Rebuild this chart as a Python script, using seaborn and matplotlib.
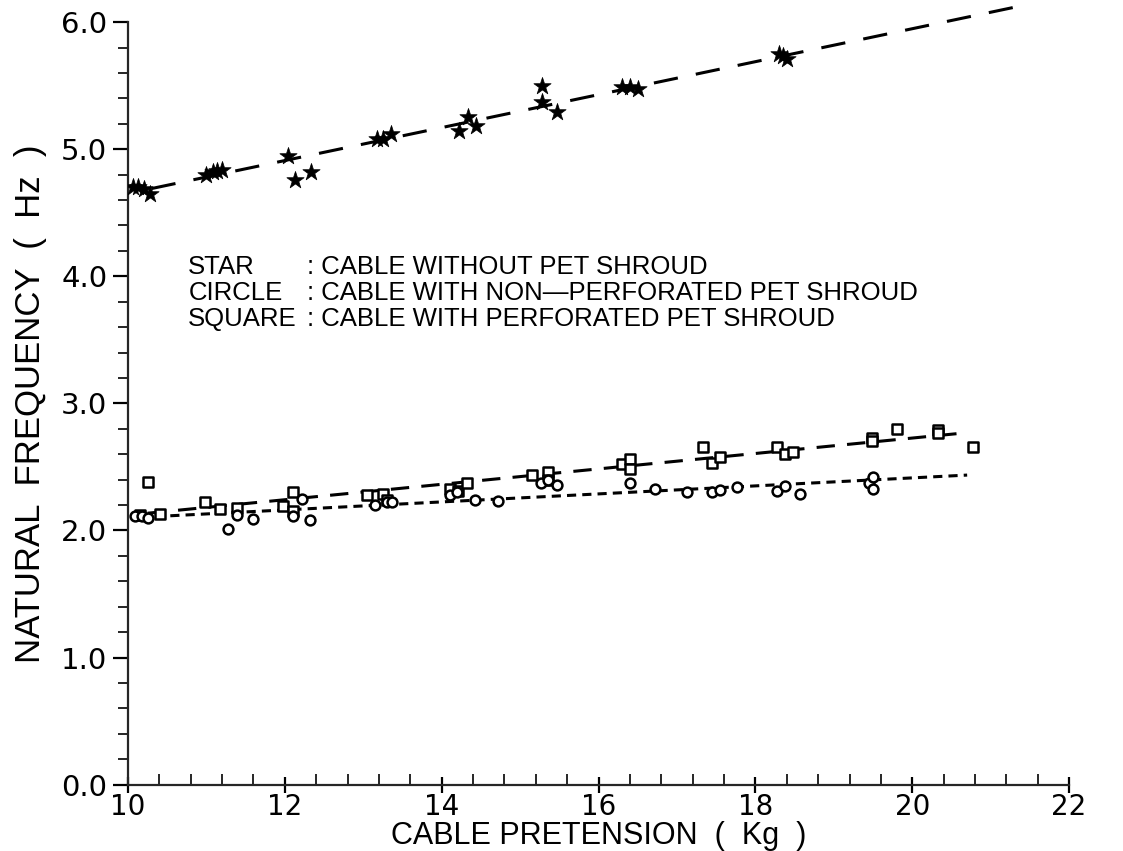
import numpy as np
import pandas as pd
import matplotlib
matplotlib.use("Agg")
import matplotlib.pyplot as plt
import seaborn as sns
from matplotlib.ticker import MultipleLocator, FormatStrFormatter

# ---- data ----
star_x = [10.06, 10.13, 10.2, 10.28, 11.0, 11.08, 11.14, 11.2, 12.04, 12.13, 12.33,
          13.18, 13.25, 13.35, 14.22, 14.33, 14.44, 15.28, 15.28, 15.47, 16.3, 16.4, 16.5,
          18.3, 18.35, 18.4]
star_y = [4.70, 4.70, 4.69, 4.65, 4.80, 4.82, 4.83, 4.84, 4.95, 4.76, 4.82,
          5.08, 5.08, 5.12, 5.14, 5.25, 5.18, 5.50, 5.37, 5.29, 5.49, 5.49, 5.47,
          5.75, 5.73, 5.71]

square_x = [10.15, 10.26, 10.41, 10.98, 11.17, 11.39, 11.98, 12.1, 12.1, 13.05, 13.25, 13.3,
            14.11, 14.21, 14.32, 15.15, 15.36, 15.36, 16.3, 16.4, 16.4, 17.33, 17.45, 17.55,
            18.28, 18.38, 18.48, 19.49, 19.49, 19.81, 20.33, 20.33, 20.77]
square_y = [2.12, 2.38, 2.13, 2.22, 2.17, 2.18, 2.19, 2.30, 2.15, 2.28, 2.29, 2.24,
            2.33, 2.31, 2.37, 2.44, 2.46, 2.40, 2.52, 2.56, 2.48, 2.66, 2.53, 2.58,
            2.66, 2.60, 2.62, 2.73, 2.70, 2.80, 2.79, 2.77, 2.66]

circle_x = [10.09, 10.18, 10.26, 11.28, 11.39, 11.6, 12.1, 12.22, 12.32, 13.15, 13.3, 13.36,
            14.11, 14.2, 14.43, 14.72, 15.26, 15.36, 15.47, 16.4, 16.72, 17.13, 17.45, 17.55,
            17.77, 18.28, 18.38, 18.57, 19.45, 19.5, 19.5]
circle_y = [2.11, 2.11, 2.10, 2.01, 2.12, 2.09, 2.11, 2.25, 2.08, 2.20, 2.22, 2.22,
            2.28, 2.30, 2.24, 2.23, 2.37, 2.40, 2.36, 2.37, 2.33, 2.30, 2.30, 2.32,
            2.34, 2.31, 2.35, 2.29, 2.37, 2.42, 2.33]

# extent of the drawn fit lines
star_fit_range = (10.3, 21.5)
square_fit_range = (10.25, 20.7)
circle_fit_range = (10.15, 20.7)

legend_keys = ["STAR", "CIRCLE", "SQUARE"]
legend_desc = [": CABLE WITHOUT PET SHROUD",
               ": CABLE WITH NON\u2014PERFORATED PET SHROUD",
               ": CABLE WITH PERFORATED PET SHROUD"]

x_label = "CABLE PRETENSION  (  Kg  )"
y_label = "NATURAL  FREQUENCY  (  Hz  )"

# ---- plotting ----
sns.set_style("ticks")
plt.rcParams['font.family'] = ['Liberation Sans', 'DejaVu Sans']

fig = plt.figure(figsize=(11.23, 8.51), dpi=100)
ax = fig.add_axes([0.114, 0.078, 0.838, 0.896])

stars = pd.DataFrame({"x": star_x, "y": star_y})
squares = pd.DataFrame({"x": square_x, "y": square_y})
circles = pd.DataFrame({"x": circle_x, "y": circle_y})

sns.scatterplot(data=stars, x="x", y="y", marker="*", s=170, color="black",
                edgecolor="black", linewidth=0.5, ax=ax, zorder=3)
sns.scatterplot(data=squares, x="x", y="y", marker="s", s=42, facecolor="white",
                edgecolor="black", linewidth=1.8, ax=ax, zorder=3)
sns.scatterplot(data=circles, x="x", y="y", marker="o", s=50, facecolor="white",
                edgecolor="black", linewidth=1.8, ax=ax, zorder=3)

def fit_line(df, rng, dashes):
    c = np.polyfit(df["x"], df["y"], 1)
    xx = np.linspace(rng[0], rng[1], 50)
    line = pd.DataFrame({"x": xx, "y": np.polyval(c, xx)})
    sns.lineplot(data=line, x="x", y="y", color="black", linewidth=2.2, ax=ax, zorder=2)
    ln = ax.lines[-1]
    ln.set_dashes(dashes)
    ln.set_clip_on(False)

fit_line(stars, star_fit_range, (8, 6))
fit_line(squares, square_fit_range, (6, 4))
fit_line(circles, circle_fit_range, (3, 2))

ax.set_xlim(10, 22)
ax.set_ylim(0, 6)
ax.xaxis.set_major_locator(MultipleLocator(2))
ax.xaxis.set_minor_locator(MultipleLocator(0.4))
ax.yaxis.set_major_locator(MultipleLocator(1))
ax.yaxis.set_minor_locator(MultipleLocator(0.2))
ax.yaxis.set_major_formatter(FormatStrFormatter("%.1f"))
ax.xaxis.set_major_formatter(FormatStrFormatter("%d"))

sns.despine(ax=ax)
for s in ["left", "bottom"]:
    ax.spines[s].set_linewidth(1.6)

ax.tick_params(axis="y", which="major", direction="out", length=11, width=1.6,
               labelsize=21, pad=4, colors="black")
ax.tick_params(axis="y", which="minor", direction="out", length=7, width=1.4)
ax.tick_params(axis="x", which="major", direction="inout", length=12, width=1.6,
               labelsize=20, pad=0, colors="black")
ax.tick_params(axis="x", which="minor", direction="in", length=8, width=1.4)
for lab in ax.get_xticklabels() + ax.get_yticklabels():
    lab.set_family(["DejaVu Sans"])

narrow = ['Liberation Sans Narrow', 'Liberation Sans', 'DejaVu Sans']
ax.set_xlabel(x_label, fontsize=22, color="black", family=narrow)
ax.xaxis.set_label_coords(0.5, -0.068)
ax.xaxis.label.set_va("center")
ax.set_ylabel(y_label, fontsize=25, color="black", family=narrow)
ax.yaxis.set_label_coords(-0.104, 0.5)
ax.yaxis.label.set_va("center")

key_x = 0.064
desc_x = 0.19
for i, (k, d) in enumerate(zip(legend_keys, legend_desc)):
    yy = 0.679 - i * 0.0345
    ax.text(key_x, yy, k, transform=ax.transAxes, fontsize=18.5,
            va="center", ha="left", color="black")
    ax.text(desc_x, yy, d, transform=ax.transAxes, fontsize=18.5,
            va="center", ha="left", color="black")

fig.savefig("out.png", dpi=100, facecolor="white")
